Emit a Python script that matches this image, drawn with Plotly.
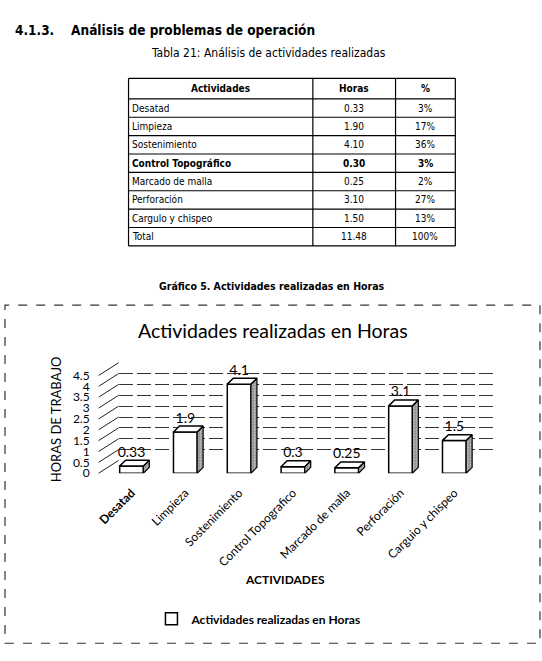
import plotly.graph_objects as go

# ---------------- data ----------------
table_header = ["Actividades", "Horas", "%"]
table_activities = ["Desatad", "Limpieza", "Sostenimiento", "Control Topográfico",
                    "Marcado de malla", "Perforación", "Cargulo y chispeo", "Total"]
table_hours = ["0.33", "1.90", "4.10", "0.30", "0.25", "3.10", "1.50", "11.48"]
table_pct = ["3%", "17%", "36%", "3%", "2%", "27%", "13%", "100%"]
table_bold_row = "Control Topográfico"

chart_categories = ["Desatad", "Limpieza", "Sostenimiento", "Control Topografico",
                    "Marcado de malla", "Perforación", "Carguio y chispeo"]
chart_hours = [0.33, 1.9, 4.1, 0.3, 0.25, 3.1, 1.5]
y_tick_values = [0, 0.5, 1, 1.5, 2, 2.5, 3, 3.5, 4, 4.5]
y_tick_labels = ["0", "0.5", "1", "1.5", "2", "2.5", "3", "3.5", "4", "4.5"]
series_name = "Actividades realizadas en Horas"

# ---------------- geometry helpers ----------------
W, H = 542, 661
def fx(px):
    return px / W
def fy(py):
    return 1 - py / H

NARROW = "DejaVu Sans Condensed, Liberation Sans Narrow, Arial Narrow, Liberation Sans, sans-serif"
CAL = "Lato, Carlito, Calibri, sans-serif"

# front (bars) plane
FX0, FX1 = 97, 493
FY_BOT, FY_TOP = 476, 376
# back wall (gridlines) plane
SHIFT_X, SHIFT_Y = 20, 13
cat_px = 54.0
unit_py = (FY_BOT - FY_TOP) / 4.5
x_lo = -(130 - FX0) / cat_px
x_hi = (FX1 - 130) / cat_px

bar_w = 0.44
dx = 6 / cat_px
dy = 6 / unit_py

idx = list(range(len(chart_categories)))

fig = go.Figure()

# ---------------- bars (pseudo 3D) ----------------
fig.add_trace(go.Bar(
    x=idx, y=chart_hours, width=bar_w, name=series_name,
    marker=dict(color="white", line=dict(color="black", width=1.5)),
    xaxis="x2", yaxis="y2", showlegend=True, hoverinfo="skip",
))

side_x, side_y, top_x, top_y = [], [], [], []
for i, v in zip(idx, chart_hours):
    r = i + bar_w / 2
    l = i - bar_w / 2
    side_x += [r, r + dx, r + dx, r, r, None]
    side_y += [0, dy, v + dy, v, 0, None]
    top_x += [l, r, r + dx, l + dx, l, None]
    top_y += [v, v, v + dy, v + dy, v, None]

fig.add_trace(go.Scatter(
    x=side_x, y=side_y, mode="lines", fill="toself",
    fillcolor="#b8b8b8",
    fillpattern=dict(shape=".", fgcolor="#222", bgcolor="#c8c8c8", size=3, solidity=0.45),
    line=dict(color="black", width=1.2),
    xaxis="x2", yaxis="y2", showlegend=False, hoverinfo="skip",
))
fig.add_trace(go.Scatter(
    x=top_x, y=top_y, mode="lines", fill="toself", fillcolor="white",
    line=dict(color="black", width=1.5),
    xaxis="x2", yaxis="y2", showlegend=False, hoverinfo="skip",
))
fig.add_trace(go.Scatter(
    x=idx, y=[v + dy for v in chart_hours], mode="text",
    text=[f"{v:g}" for v in chart_hours], textposition="top center",
    textfont=dict(family=CAL, size=14, color="black"),
    cliponaxis=False,
    xaxis="x2", yaxis="y2", showlegend=False, hoverinfo="skip",
))
# invisible trace on the back-wall axes so they render
fig.add_trace(go.Scatter(
    x=idx, y=chart_hours, mode="markers", marker=dict(opacity=0),
    xaxis="x", yaxis="y", showlegend=False, hoverinfo="skip",
))

# ---------------- layout ----------------
fig.update_layout(
    width=W, height=H,
    margin=dict(l=0, r=0, t=0, b=0),
    paper_bgcolor="white", plot_bgcolor="rgba(0,0,0,0)",
    barmode="overlay",
    xaxis=dict(domain=[fx(FX0 + SHIFT_X), fx(FX1)], range=[x_lo, x_hi],
               anchor="y", showticklabels=False, showgrid=False, zeroline=False,
               showline=False, fixedrange=True),
    yaxis=dict(domain=[fy(FY_BOT - SHIFT_Y), fy(FY_TOP - SHIFT_Y)], range=[0, 4.5],
               anchor="x", tickvals=y_tick_values, showticklabels=False,
               showgrid=True, gridcolor="#333", gridwidth=1, griddash="14px,4px",
               zeroline=False, showline=False, fixedrange=True),
    xaxis2=dict(domain=[fx(FX0), fx(FX1)], range=[x_lo, x_hi], anchor="y2",
                tickvals=idx,
                ticktext=[f"<b>{c}</b>" if i == 0 else c for i, c in enumerate(chart_categories)],
                tickangle=-45, tickfont=dict(family=CAL, size=12, color="black"),
                showgrid=False, zeroline=False, showline=False,
                ticks="outside", ticklen=7, tickcolor="rgba(0,0,0,0)",
                fixedrange=True),
    yaxis2=dict(domain=[fy(FY_BOT), fy(FY_TOP)], range=[0, 4.5], anchor="x2",
                tickvals=y_tick_values, ticktext=y_tick_labels,
                tickfont=dict(family=CAL, size=12, color="black"),
                showgrid=False, zeroline=False, showline=False, ticks="",
                ticklabelstandoff=8, fixedrange=True),
    legend=dict(orientation="h", x=fx(150), xanchor="left", y=fy(625), yanchor="middle",
                font=dict(family=CAL, size=12, color="black", weight="bold"),
                bgcolor="rgba(0,0,0,0)"),
    showlegend=True,
)

shapes = []
# slanted depth lines at the left of the wall
for v in y_tick_values:
    shapes.append(dict(type="line", xref="paper", yref="paper",
                       x0=fx(FX0), y0=fy(FY_BOT - v * unit_py),
                       x1=fx(FX0 + SHIFT_X), y1=fy(FY_BOT - SHIFT_Y - v * unit_py),
                       line=dict(color="#222", width=1)))
# dashed chart frame
shapes.append(dict(type="rect", xref="paper", yref="paper",
                   x0=fx(3), y0=fy(650), x1=fx(540), y1=fy(304),
                   line=dict(color="#333", width=1.2, dash="dash")))

# ---------------- table (grid lines + cell texts) ----------------
T_TOP = 72
col_edges = [127, 312, 395, 455]
header_h, row_h = 21, 18.8
n_rows = len(table_activities)
row_edges = [T_TOP, T_TOP + header_h] + [T_TOP + header_h + row_h * (k + 1) for k in range(n_rows)]
for yb in row_edges:
    shapes.append(dict(type="line", xref="paper", yref="paper",
                       x0=fx(col_edges[0]), x1=fx(col_edges[-1]), y0=fy(yb), y1=fy(yb),
                       line=dict(color="black", width=1.2)))
for xb in col_edges:
    shapes.append(dict(type="line", xref="paper", yref="paper",
                       x0=fx(xb), x1=fx(xb), y0=fy(row_edges[0]), y1=fy(row_edges[-1]),
                       line=dict(color="black", width=1.2)))
fig.update_layout(shapes=shapes)

annotations = []
TFONT = dict(family=NARROW, size=10, color="black")
for c, h in enumerate(table_header):
    annotations.append(dict(text=f"<b>{h}</b>", x=fx((col_edges[c] + col_edges[c + 1]) / 2),
                            y=fy(T_TOP + header_h / 2), xanchor="center", yanchor="middle",
                            font=TFONT))
for r, (a, h, p) in enumerate(zip(table_activities, table_hours, table_pct)):
    yc = fy(T_TOP + header_h + row_h * (r + 0.5))
    b = (lambda s: f"<b>{s}</b>") if a == table_bold_row else (lambda s: s)
    annotations.append(dict(text=b(a), x=fx(col_edges[0] + 1), y=yc,
                            xanchor="left", yanchor="middle", font=TFONT))
    annotations.append(dict(text=b(h), x=fx((col_edges[1] + col_edges[2]) / 2), y=yc,
                            xanchor="center", yanchor="middle", font=TFONT))
    annotations.append(dict(text=b(p), x=fx((col_edges[2] + col_edges[3]) / 2), y=yc,
                            xanchor="center", yanchor="middle", font=TFONT))

annotations += [
    dict(text="<b>4.1.3.\u00a0\u00a0\u00a0\u00a0Análisis de problemas de operación</b>",
         x=fx(11), y=fy(22), xanchor="left", yanchor="middle",
         font=dict(family=NARROW, size=13.5, color="black")),
    dict(text="Tabla 21: Análisis de actividades realizadas",
         x=fx(267), y=fy(46), xanchor="center", yanchor="middle",
         font=dict(family=NARROW, size=12, color="black")),
    dict(text="<b>Gráfico 5. Actividades realizadas en Horas</b>",
         x=fx(271), y=fy(284), xanchor="center", yanchor="middle",
         font=dict(family=NARROW, size=10.5, color="black")),
    dict(text=series_name,
         x=fx(272), y=fy(330), xanchor="center", yanchor="middle",
         font=dict(family=CAL, size=19.5, color="black")),
    dict(text="HORAS DE TRABAJO", textangle=-90,
         x=fx(55), y=fy(421), xanchor="center", yanchor="middle",
         font=dict(family=CAL, size=13, color="black")),
    dict(text="<b>ACTIVIDADES</b>",
         x=fx(284), y=fy(585), xanchor="center", yanchor="middle",
         font=dict(family=CAL, size=12, color="black")),
]
for a in annotations:
    a.update(xref="paper", yref="paper", showarrow=False)
fig.update_layout(annotations=annotations)

fig.write_html("out.html")
